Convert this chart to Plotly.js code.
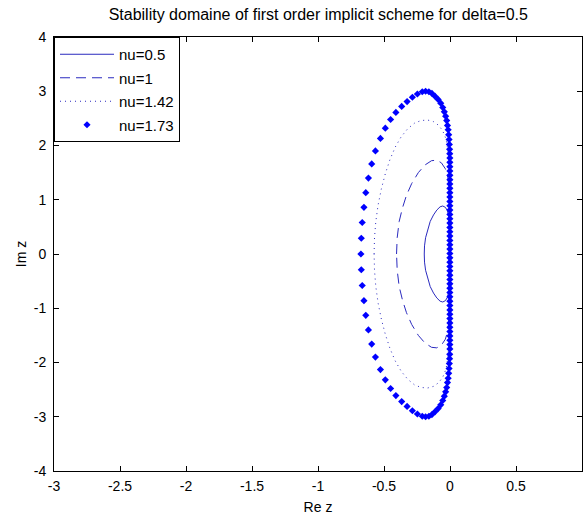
<!DOCTYPE html>
<html>
<head>
<meta charset="utf-8">
<script src="https://cdn.plot.ly/plotly-3.0.1.min.js"></script>
<style>html,body{margin:0;padding:0;background:#fff;}#chart{width:584px;height:515px;}</style>
</head>
<body>
<div id="chart"></div>
<script>
// Axis ticks
var xTickVals = [-3, -2.5, -2, -1.5, -1, -0.5, 0, 0.5, 1];
var xTickText = ['-3', '-2.5', '-2', '-1.5', '-1', '-0.5', '0', '0.5', '1'];
var yTickVals = [-4, -3, -2, -1, 0, 1, 2, 3, 4];
var yTickText = ['-4', '-3', '-2', '-1', '0', '1', '2', '3', '4'];

// nu = 0.5 (solid)
var nu05X = [-0.195, -0.193, -0.185, -0.17, -0.15, -0.125, -0.1, -0.075, -0.055, -0.035, -0.02, -0.01, -0.004, -0.001, 0,
             -0.001, -0.004, -0.01, -0.02, -0.035, -0.055, -0.075, -0.1, -0.125, -0.15, -0.17, -0.185, -0.193, -0.195];
var nu05Y = [0, 0.15, 0.3, 0.45, 0.6, 0.72, 0.81, 0.87, 0.885, 0.86, 0.8, 0.7, 0.55, 0.3, 0,
             -0.3, -0.55, -0.7, -0.8, -0.86, -0.885, -0.87, -0.81, -0.72, -0.6, -0.45, -0.3, -0.15, 0];

// nu = 1 (dashed)
var nu1X = [-0.405, -0.4, -0.385, -0.36, -0.33, -0.29, -0.24, -0.19, -0.14, -0.1, -0.065, -0.035, -0.015, -0.005, 0,
            -0.005, -0.015, -0.035, -0.065, -0.1, -0.14, -0.19, -0.24, -0.29, -0.33, -0.36, -0.385, -0.4, -0.405];
var nu1Y = [0, 0.3, 0.6, 0.85, 1.08, 1.3, 1.5, 1.64, 1.72, 1.73, 1.68, 1.57, 1.4, 1.1, 0,
            -1.1, -1.4, -1.57, -1.68, -1.73, -1.72, -1.64, -1.5, -1.3, -1.08, -0.85, -0.6, -0.3, 0];

// nu = 1.42 (dotted)
var nu142X = [-0.575, -0.572, -0.562, -0.545, -0.52, -0.49, -0.455, -0.415, -0.37, -0.32, -0.27, -0.22, -0.17, -0.125, -0.085, -0.055, -0.03, -0.015, -0.005, 0,
              -0.005, -0.015, -0.03, -0.055, -0.085, -0.125, -0.17, -0.22, -0.27, -0.32, -0.37, -0.415, -0.455, -0.49, -0.52, -0.545, -0.562, -0.572, -0.575];
var nu142Y = [0, 0.3, 0.6, 0.9, 1.2, 1.48, 1.74, 1.97, 2.16, 2.31, 2.41, 2.46, 2.47, 2.44, 2.37, 2.27, 2.12, 1.9, 1.5, 0,
              -1.5, -1.9, -2.12, -2.27, -2.37, -2.44, -2.47, -2.46, -2.41, -2.31, -2.16, -1.97, -1.74, -1.48, -1.2, -0.9, -0.6, -0.3, 0];

// nu = 1.73 (markers)
var nu173X = [-0.675, -0.672, -0.665, -0.652, -0.638, -0.618, -0.593, -0.565, -0.527, -0.49, -0.45, -0.41, -0.366, -0.325, -0.285, -0.247, -0.21, -0.185,
              -0.16, -0.137, -0.114, -0.09, -0.07, -0.055, -0.043, -0.033, -0.025, -0.019, -0.014, -0.01, -0.007, -0.005, -0.003, -0.002,
              -0.001, -0.001, -0.001, -0.001, -0.001, -0.001, -0.001, -0.001, -0.001, -0.001, -0.001, -0.001, -0.001, -0.001, -0.001, -0.001, -0.001, -0.001, -0.001, -0.001, -0.001, -0.001, -0.001,
              -0.001, -0.001, -0.001, -0.001, -0.001, -0.001, -0.001, -0.001, -0.001, -0.001, -0.001, -0.001, -0.001, -0.001, -0.001, -0.001, -0.001, -0.001, -0.001, -0.001, -0.001, -0.001,
              -0.002, -0.003, -0.005, -0.007, -0.01, -0.014, -0.019, -0.025, -0.033, -0.043, -0.055, -0.07, -0.09, -0.114, -0.137, -0.16,
              -0.185, -0.21, -0.247, -0.285, -0.325, -0.366, -0.41, -0.45, -0.49, -0.527, -0.565, -0.593, -0.618, -0.638, -0.652, -0.665, -0.672];
var nu173Y = [0, 0.29, 0.58, 0.86, 1.13, 1.4, 1.66, 1.9, 2.13, 2.32, 2.48, 2.61, 2.72, 2.81, 2.89, 2.95, 2.99, 3.0,
              2.99, 2.96, 2.91, 2.85, 2.78, 2.7, 2.62, 2.54, 2.46, 2.37, 2.29, 2.2, 2.11, 2.02, 1.93, 1.85,
              1.77, 1.69, 1.61, 1.53, 1.45, 1.37, 1.29, 1.21, 1.13, 1.05, 0.97, 0.89, 0.81, 0.73, 0.65, 0.57, 0.49, 0.41, 0.33, 0.25, 0.17, 0.09, 0.01,
              -0.07, -0.15, -0.23, -0.31, -0.39, -0.47, -0.55, -0.63, -0.71, -0.79, -0.87, -0.95, -1.03, -1.11, -1.19, -1.27, -1.35, -1.43, -1.51, -1.59, -1.67, -1.75,
              -1.85, -1.93, -2.02, -2.11, -2.2, -2.29, -2.37, -2.46, -2.54, -2.62, -2.7, -2.78, -2.85, -2.91, -2.96, -2.99,
              -3.0, -2.99, -2.95, -2.89, -2.81, -2.72, -2.61, -2.48, -2.32, -2.13, -1.9, -1.66, -1.4, -1.13, -0.86, -0.58, -0.29];

var lineColor = '#2b2bbf';
var markColor = '#0000ff';
var fontFam = '"Liberation Sans", Arial, sans-serif';

var traces = [
  {x: nu05X, y: nu05Y, name: 'nu=0.5', type: 'scatter', mode: 'lines', legendgroup: 'a',
   line: {color: lineColor, width: 1}},
  {x: nu1X, y: nu1Y, name: 'nu=1', type: 'scatter', mode: 'lines', legendgroup: 'b',
   line: {color: lineColor, width: 1, dash: '10px,6px'}},
  {x: nu142X, y: nu142Y, name: 'nu=1.42', type: 'scatter', mode: 'lines', legendgroup: 'c',
   line: {color: lineColor, width: 1, dash: '1px,4px'}},
  {x: nu173X, y: nu173Y, name: 'nu=1.73', type: 'scatter', mode: 'markers', legendgroup: 'd',
   marker: {color: markColor, size: 5.5, symbol: 'diamond'}}
];

var axisCommon = {
  showline: true, linecolor: '#000', linewidth: 1, mirror: 'ticks',
  ticks: 'inside', ticklen: 5, tickcolor: '#000', tickwidth: 1,
  showgrid: false, zeroline: false,
  tickfont: {family: fontFam, size: 14, color: '#000'}
};

var layout = {
  width: 584, height: 515,
  paper_bgcolor: '#fff', plot_bgcolor: '#fff',
  margin: {l: 54, r: 2, t: 37, b: 44},
  title: {text: 'Stability domaine of first order implicit scheme for delta=0.5',
          font: {family: fontFam, size: 16, color: '#000'},
          x: 0.545, xanchor: 'center', y: 0.973, yanchor: 'middle'},
  xaxis: Object.assign({}, axisCommon, {
    range: [-3, 1], tickvals: xTickVals, ticktext: xTickText, ticklabelstandoff: 2,
    title: {text: 'Re z', font: {family: fontFam, size: 14, color: '#000'}, standoff: 11}
  }),
  yaxis: Object.assign({}, axisCommon, {
    range: [-4, 4], tickvals: yTickVals, ticktext: yTickText, ticklabelstandoff: 4,
    title: {text: 'Im z', font: {family: fontFam, size: 14, color: '#000'}, standoff: 3}
  }),
  showlegend: true,
  legend: {x: 0, y: 1, xanchor: 'left', yanchor: 'top',
           bgcolor: '#fff', bordercolor: '#000', borderwidth: 1,
           itemwidth: 54, traceorder: 'grouped', tracegroupgap: 1,
           font: {family: fontFam, size: 15, color: '#000'}}
};

Plotly.newPlot('chart', traces, layout, {displayModeBar: false, staticPlot: true});
</script>
</body>
</html>
